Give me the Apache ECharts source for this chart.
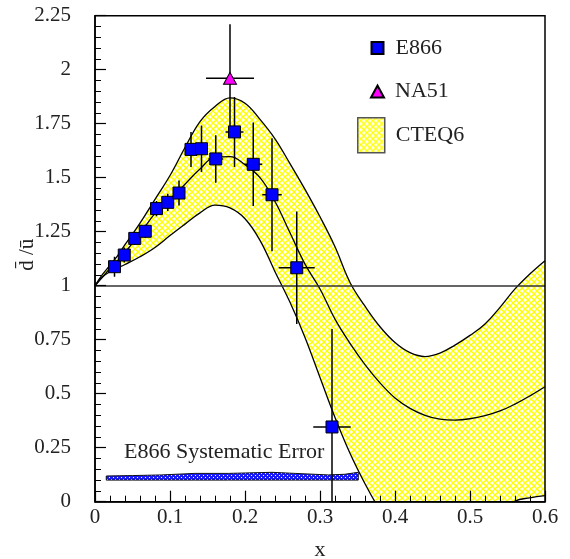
<!DOCTYPE html>
<html><head><meta charset="utf-8">
<script src="https://cdn.jsdelivr.net/npm/echarts@6/dist/echarts.min.js"></script>
<style>html,body{margin:0;padding:0;background:#fff}#c{width:570px;height:559px}</style>
</head><body><div id="c"></div>
<script>
// E866 data
const e866X    = [0.026, 0.039, 0.053, 0.067, 0.082, 0.097, 0.112, 0.128, 0.142, 0.161, 0.186, 0.211, 0.236, 0.269, 0.316];
const e866Y    = [1.088, 1.142, 1.219, 1.252, 1.357, 1.386, 1.429, 1.631, 1.634, 1.587, 1.712, 1.562, 1.421, 1.083, 0.346];
const e866YErr = [0.046, 0.035, 0.030, 0.030, 0.035, 0.040, 0.058, 0.081, 0.108, 0.110, 0.162, 0.193, 0.262, 0.260, 0.454];
const e866XErr = [0.005, 0.005, 0.005, 0.005, 0.005, 0.005, 0.006, 0.006, 0.006, 0.010, 0.012, 0.012, 0.013, 0.024, 0.025];
// NA51
const na51X = [0.18];
const na51Y = [1.96];
const na51YErr = [0.25];
const na51XErr = [0.032];
// CTEQ6 band
const cteqX   = [0, 0.01, 0.02, 0.03, 0.04, 0.06, 0.08, 0.10, 0.12, 0.14, 0.16, 0.18, 0.20, 0.22, 0.24, 0.26, 0.28, 0.30, 0.32, 0.34, 0.36, 0.38, 0.40, 0.42, 0.44, 0.46, 0.48, 0.50, 0.52, 0.54, 0.56, 0.58, 0.60];
const cteqUp  = [1.0, 1.052, 1.095, 1.138, 1.19, 1.29, 1.40, 1.51, 1.64, 1.76, 1.83, 1.87, 1.845, 1.77, 1.68, 1.565, 1.446, 1.319, 1.18, 1.015, 0.905, 0.81, 0.737, 0.69, 0.672, 0.688, 0.725, 0.77, 0.823, 0.90, 0.985, 1.055, 1.116];
const cteqMid = [1.0, 1.04, 1.08, 1.115, 1.155, 1.24, 1.335, 1.40, 1.47, 1.54, 1.595, 1.598, 1.56, 1.50, 1.39, 1.245, 1.10, 0.985, 0.845, 0.733, 0.635, 0.55, 0.48, 0.432, 0.40, 0.382, 0.378, 0.384, 0.398, 0.42, 0.452, 0.49, 0.532];
const cteqLow = [1.0, 1.04, 1.065, 1.082, 1.098, 1.134, 1.177, 1.232, 1.285, 1.337, 1.373, 1.36, 1.31, 1.21, 1.065, 0.923, 0.76, 0.575, 0.39, 0.224, 0.083, -0.04, -0.14, -0.2, -0.23, -0.23, -0.2, -0.15, -0.1, -0.05, 0.003, 0.018, 0.028];
// E866 systematic error band
const sysX   = [0.015, 0.05, 0.089, 0.133, 0.178, 0.236, 0.267, 0.311, 0.333, 0.351];
const sysTop = [0.119, 0.121, 0.124, 0.131, 0.131, 0.136, 0.131, 0.124, 0.127, 0.136];
const sysLow = [0.100, 0.100, 0.100, 0.100, 0.100, 0.100, 0.100, 0.100, 0.100, 0.100];

const FONT = '"Liberation Serif", "Times New Roman", serif';

function makePattern(size, bg, fg, lw) {
  const c = document.createElement('canvas');
  c.width = size; c.height = size;
  const g = c.getContext('2d');
  g.fillStyle = bg; g.fillRect(0, 0, size, size);
  g.strokeStyle = fg; g.lineWidth = lw;
  g.beginPath();
  g.moveTo(-1, -1); g.lineTo(size + 1, size + 1);
  g.moveTo(-1, size + 1); g.lineTo(size + 1, -1);
  g.stroke();
  return c;
}
const yellowPat = { image: makePattern(6, '#ffffff', '#ffff00', 1.3), repeat: 'repeat' };
const bluePat = (() => {
  const c = document.createElement('canvas'); c.width = 4; c.height = 4;
  const g = c.getContext('2d');
  g.fillStyle = '#1a1aff'; g.fillRect(0, 0, 4, 4);
  g.fillStyle = '#ffffff'; g.fillRect(1, 1, 1, 1); g.fillRect(3, 3, 1, 1);
  return { image: c, repeat: 'repeat' };
})();

function errRender(params, api) {
  const x = api.value(0), y = api.value(1), ex = api.value(2), ey = api.value(3);
  const a = api.coord([x - ex, y]), b = api.coord([x + ex, y]);
  const c = api.coord([x, y - ey]), d = api.coord([x, y + ey]);
  const st = { stroke: '#000', lineWidth: 1.5 };
  return { type: 'group', children: [
    { type: 'line', shape: { x1: a[0], y1: a[1], x2: b[0], y2: b[1] }, style: st },
    { type: 'line', shape: { x1: c[0], y1: c[1], x2: d[0], y2: d[1] }, style: st }
  ]};
}

const chart = echarts.init(document.getElementById('c'), null, { renderer: 'canvas' });
const lineCommon = { type: 'line', symbol: 'none', smooth: 0.4, clip: true, silent: true };

chart.setOption({
  animation: false,
  backgroundColor: '#fff',
  grid: { left: 95, top: 15.7, width: 450, height: 486, show: true, z: 10, borderColor: '#000', borderWidth: 1.5, backgroundColor: 'transparent', outerBoundsMode: 'none' },
  xAxis: {
    type: 'value', min: 0, max: 0.6, interval: 0.1, z: 10,
    name: 'x', nameLocation: 'middle', nameGap: 38, nameMoveOverlap: false,
    nameTextStyle: { fontFamily: FONT, fontSize: 22, color: '#222' },
    axisLine: { lineStyle: { color: '#000', width: 1.5 } },
    axisTick: { inside: true, length: 11, lineStyle: { color: '#000', width: 1.2 } },
    minorTick: { show: true, splitNumber: 5, length: 6, lineStyle: { color: '#000', width: 1 } },
    splitLine: { show: false },
    axisLabel: { fontFamily: FONT, fontSize: 21, color: '#222', margin: 5,
      formatter: v => String(parseFloat(v.toFixed(2))) }
  },
  yAxis: {
    type: 'value', min: 0, max: 2.25, interval: 0.25, z: 10,
    name: 'd\u0304 /\u016b', nameLocation: 'middle', nameGap: 57, nameRotate: 90, nameMoveOverlap: false,
    nameTextStyle: { fontFamily: FONT, fontSize: 21, color: '#222', padding: [0, 0, 0, 8] },
    axisLine: { lineStyle: { color: '#000', width: 1.5 } },
    axisTick: { inside: true, length: 11, lineStyle: { color: '#000', width: 1.2 } },
    minorTick: { show: true, splitNumber: 5, length: 6, lineStyle: { color: '#000', width: 1 } },
    splitLine: { show: false },
    axisLabel: { fontFamily: FONT, fontSize: 21, color: '#222', margin: 24,
      formatter: v => String(parseFloat(v.toFixed(2))) }
  },
  legend: [
    { data: [{ name: 'E866', icon: 'rect' }], left: 370.5, top: 37, padding: 0, itemWidth: 12, itemHeight: 12, selectedMode: false,
      textStyle: { fontFamily: FONT, fontSize: 22, color: '#222', padding: [0, 0, 0, 7] } },
    { data: [{ name: 'NA51', icon: 'triangle' }], left: 370, top: 80.5, padding: 0, itemWidth: 13, itemHeight: 12, selectedMode: false,
      textStyle: { fontFamily: FONT, fontSize: 22, color: '#222', padding: [0, 0, 0, 6] } },
    { data: [{ name: 'CTEQ6', icon: 'rect', itemStyle: { color: yellowPat, borderColor: '#555', borderWidth: 1.5 } }],
      left: 357, top: 117, padding: 0, itemWidth: 27, itemHeight: 35, selectedMode: false,
      textStyle: { fontFamily: FONT, fontSize: 22, color: '#222', padding: [0, 0, 0, 6] } }
  ],
  graphic: [
    { type: 'text', x: 124, y: 452, z: 10, silent: true,
      style: { text: 'E866 Systematic Error', font: '22px ' + FONT, fill: '#222', verticalAlign: 'middle', align: 'left' } }
  ],
  series: [
    // band fill: pattern under upper curve, then white under lower curve
    Object.assign({}, lineCommon, { name: 'CTEQ6', data: cteqX.map((x, i) => [x, cteqUp[i]]),
      lineStyle: { opacity: 0 }, areaStyle: { color: yellowPat, opacity: 1, origin: 'start' }, itemStyle: { color: '#ffff66' }, z: 1 }),
    Object.assign({}, lineCommon, { name: 'bandMask', data: cteqX.map((x, i) => [x, cteqLow[i]]),
      lineStyle: { opacity: 0 }, areaStyle: { color: '#ffffff', opacity: 1, origin: 'start' }, z: 2 }),
    Object.assign({}, lineCommon, { name: 'cteqUp', data: cteqX.map((x, i) => [x, cteqUp[i]]), lineStyle: { color: '#000', width: 1.3 }, z: 3 }),
    Object.assign({}, lineCommon, { name: 'cteqMid', data: cteqX.map((x, i) => [x, cteqMid[i]]), lineStyle: { color: '#000', width: 1.3 }, z: 3,
      markLine: { silent: true, symbol: ['none', 'none'], label: { show: false }, lineStyle: { color: '#333', width: 1.6, type: 'solid' }, data: [{ yAxis: 1 }] } }),
    Object.assign({}, lineCommon, { name: 'cteqLow', data: cteqX.map((x, i) => [x, cteqLow[i]]), lineStyle: { color: '#000', width: 1.3 }, z: 3 }),
    { type: 'custom', name: 'sys', silent: true, clip: true, z: 4,
      data: [[sysX[0], sysLow[0]]], encode: { x: 0, y: 1 },
      renderItem: (params, api) => {
        const pts = [];
        sysX.forEach((x, i) => pts.push(api.coord([x, sysTop[i]])));
        for (let i = sysX.length - 1; i >= 0; i--) pts.push(api.coord([sysX[i], sysLow[i]]));
        return { type: 'polygon', shape: { points: pts }, style: { fill: bluePat, stroke: '#111', lineWidth: 1 } };
      } },
    { type: 'custom', name: 'e866err', silent: true, clip: true, z: 5,
      data: e866X.map((x, i) => [x, e866Y[i], e866XErr[i], e866YErr[i]]), encode: { x: 0, y: 1 }, renderItem: errRender },
    { type: 'custom', name: 'na51err', silent: true, clip: true, z: 5,
      data: na51X.map((x, i) => [x, na51Y[i], na51XErr[i], na51YErr[i]]), encode: { x: 0, y: 1 }, renderItem: errRender },
    { type: 'scatter', name: 'E866', symbol: 'rect', symbolSize: 12, z: 6, silent: true,
      itemStyle: { color: '#0000ff', borderColor: '#000', borderWidth: 1, opacity: 1 },
      data: e866X.map((x, i) => [x, e866Y[i]]) },
    { type: 'scatter', name: 'NA51', symbol: 'triangle', symbolSize: [13, 12], z: 6, silent: true,
      itemStyle: { color: '#ff00ff', borderColor: '#000', borderWidth: 1, opacity: 1 },
      data: na51X.map((x, i) => [x, na51Y[i]]) }
  ]
});
</script></body></html>
